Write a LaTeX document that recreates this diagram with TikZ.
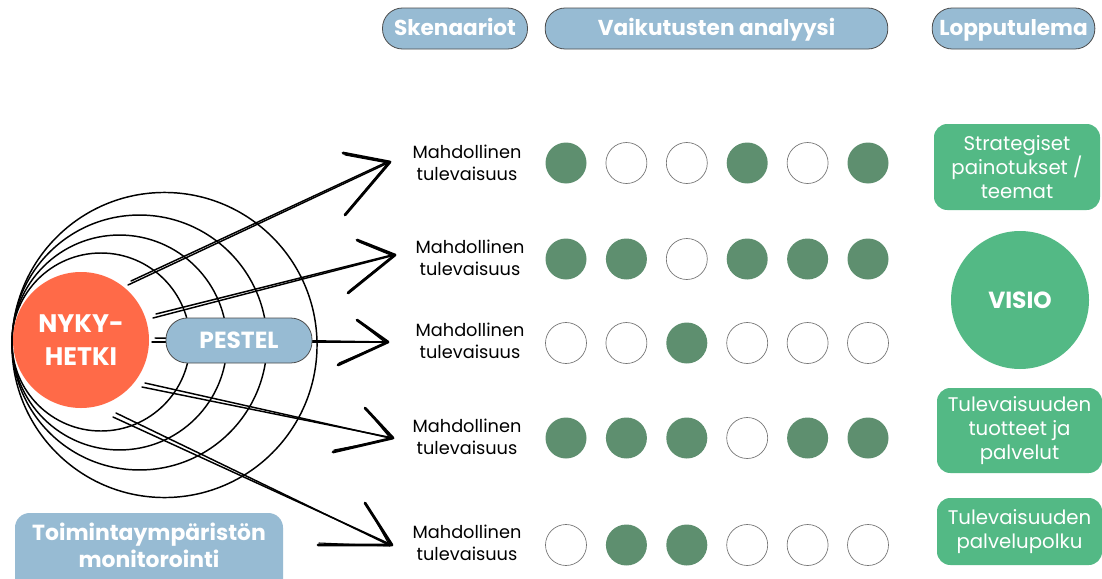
\documentclass[tikz,border=0pt]{standalone}
\usepackage{fontspec}
\setmainfont{Poppins}
\usetikzlibrary{calc}
\definecolor{hblue}{HTML}{97BBD3}
\definecolor{orng}{HTML}{FF6A48}
\definecolor{gbox}{HTML}{53B985}
\definecolor{dotg}{HTML}{5E8F6F}
\begin{document}
\begin{tikzpicture}[x=0.75pt,y=-0.75pt,
  hdr/.style={draw=black!70, line width=0.6pt, fill=hblue, rounded corners=15pt,
    minimum height=30.75pt, inner sep=0pt},
  hdrtext/.style={text=white, font=\bfseries\fontsize{16.2}{19}\selectfont, inner sep=0pt, anchor=base},
  ring/.style={draw=black, line width=1.1pt},
  shaft/.style={draw=black, line width=1.1pt, line cap=round},
  arm/.style={draw=black, line width=2.1pt, line cap=round, line join=round},
  lbl/.style={align=center, font=\fontsize{13.3}{16.5}\selectfont, text=black},
  fdot/.style={circle, fill=dotg, minimum size=30.75pt, inner sep=0pt},
  odot/.style={circle, draw=black!55, line width=0.5pt, minimum size=30.75pt, inner sep=0pt},
  gbx/.style={fill=gbox, rounded corners=10pt, text=white, align=center,
    font=\fontsize{14.8}{18}\selectfont, inner sep=0pt}]
\useasboundingbox (0,0) rectangle (1102,578);
\fill[white] (0,0) rectangle (1102,578);

% headers
\node[hdr, minimum width=108.75pt] (sk) at (455,28.5) {};
\node[hdrtext] (skt) at (455,36) {Skenaariot};
\node[hdr, minimum width=257pt] (va) at (716.5,28.5) {};
\node[hdrtext] (vat) at (716.5,36) {Vaikutusten analyysi};
\node[hdr, minimum width=122pt] (lo) at (1013.5,28.5) {};
\node[hdrtext] (lot) at (1013.5,36) {Lopputulema};

% concentric rings
\draw[ring] (101,342) circle[radius=66.75pt];
\draw[ring] (119.5,342.5) circle[radius=80.6pt];
\draw[ring] (139.5,342.5) circle[radius=95.6pt];
\draw[ring] (164.5,345) circle[radius=114.4pt];

% present moment
\node[circle, fill=orng, minimum size=102pt, inner sep=0pt, text=white, align=center,
  font=\bfseries\fontsize{19}{25}\selectfont] (ny) at (81,340) {NYKY-\\HETKI};

% arrows
\foreach \i/\sx/\sy/\tx/\ty/\ax/\ay/\bx/\by in {
  1/128/285/390/162/343/153/345/215,
  2/153/318/395/255/357/240/348/293,
  3/152/342/388/342/357/320/338/365,
  4/142/387/393/438/365/408/333/452,
  5/113/417/392/545/365/503/318/545}{
  \coordinate (s\i) at (\sx,\sy);
  \coordinate (t\i) at (\tx,\ty);
  \coordinate (a\i) at (\ax,\ay);
  \coordinate (b\i) at (\bx,\by);
  \draw[shaft] (s\i) -- (t\i);
  \draw[shaft] ($(s\i)+(3,-4)$) -- ($(t\i)+(-3,0)$);
  \draw[arm] (a\i) -- (t\i) -- (b\i);
  \draw[arm, line width=0.8pt] ($(a\i)+(2,2)$) -- ($(t\i)+(-2,1)$) -- ($(b\i)+(1,-2)$);
}

% PESTEL
\node[draw=black!70, line width=0.6pt, fill=hblue, rounded corners=16pt, minimum width=109.5pt,
  minimum height=33.75pt, text=white, font=\bfseries\fontsize{17.5}{20}\selectfont] (pe) at (239,340.5) {PESTEL};

% monitoring box
\fill[hblue, rounded corners=11pt] (15,513) rectangle (283,600);
\node[text=white, align=center, font=\bfseries\fontsize{16.4}{20}\selectfont] (mo) at (149,545)
  {Toimintaympäristön\\monitorointi};

% scenario labels
\node[lbl] (m1) at (467,163) {Mahdollinen\\tulevaisuus};
\node[lbl] (m2) at (470,258) {Mahdollinen\\tulevaisuus};
\node[lbl] (m3) at (470,341) {Mahdollinen\\tulevaisuus};
\node[lbl] (m4) at (467,437) {Mahdollinen\\tulevaisuus};
\node[lbl] (m5) at (467,543) {Mahdollinen\\tulevaisuus};

% impact dots
\foreach \r/\y/\pat in {1/163/{1,0,0,1,0,1}, 2/259/{1,1,0,1,1,1}, 3/343/{0,0,1,0,0,0},
                        4/438/{1,1,1,0,1,1}, 5/545/{0,1,1,0,0,0}}{
  \foreach \v [count=\c] in \pat {
    \pgfmathsetmacro{\xx}{566+60.4*(\c-1)}
    \ifnum\v=1
      \node[fdot] (d\r\c) at (\xx,\y) {};
    \else
      \node[odot] (d\r\c) at (\xx,\y) {};
    \fi
  }
}

% outcomes
\node[gbx, minimum width=124.5pt, minimum height=64.5pt] (g1) at (1017,167) {Strategiset\\painotukset /\\teemat};
\node[circle, fill=gbox, minimum size=103.5pt, inner sep=0pt, text=white,
  font=\bfseries\fontsize{17.5}{20}\selectfont] (vi) at (1020,300) {VISIO};
\node[gbx, minimum width=123.75pt, minimum height=63.75pt] (g3) at (1019.5,430.5) {Tulevaisuuden\\tuotteet ja\\palvelut};
\node[gbx, minimum width=123.75pt, minimum height=50.25pt] (g4) at (1019.5,531.5) {Tulevaisuuden\\palvelupolku};
\end{tikzpicture}
\end{document}
